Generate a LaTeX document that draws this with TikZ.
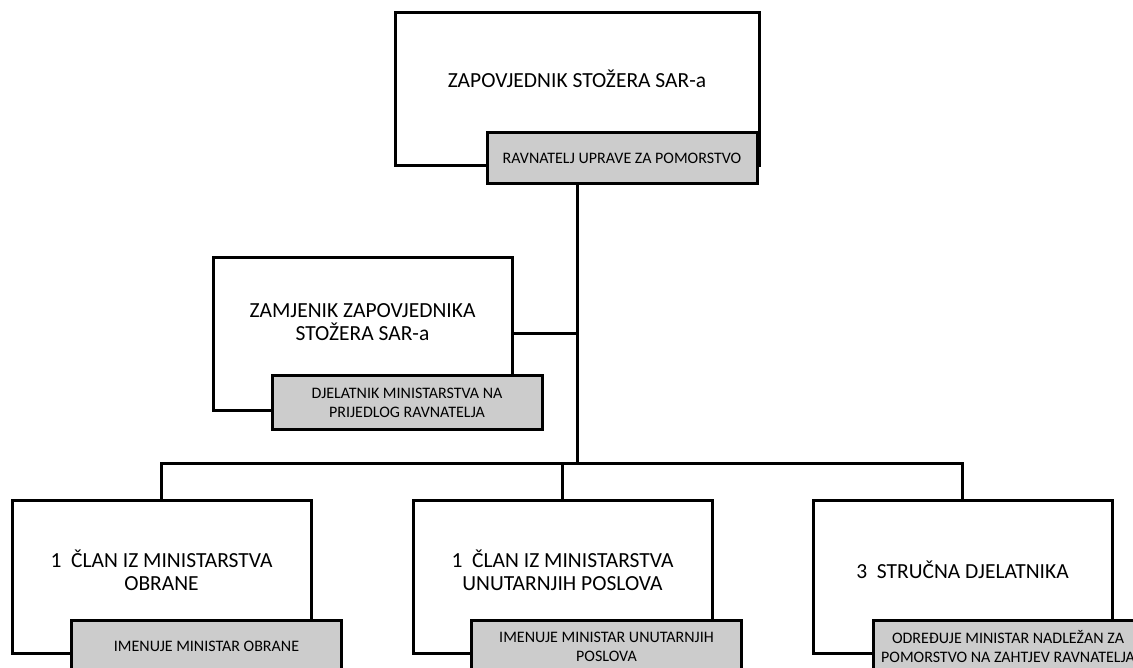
\documentclass[tikz,border=0pt]{standalone}
\usepackage{fontspec}
\setmainfont{Carlito}
\definecolor{boxgray}{RGB}{204,204,204}
\begin{document}
\begin{tikzpicture}[x=1pt, y=-1pt, line width=3pt, every node/.style = {shape=rectangle, align=center, inner sep=0pt}]
			\tikzstyle{post}=[draw, fill=white, minimum width=299pt, minimum height=153pt]
			\tikzstyle{note}=[draw, fill=boxgray, minimum width=270pt, minimum height=53pt, font=\fontsize{16}{19}\selectfont]
			\tikzstyle{title}=[font=\fontsize{21.5}{23}\selectfont]
			\useasboundingbox (0,0) rectangle (1133,668);
			\clip (0,0) rectangle (1133,668);
			% zapovjednik
			\node[post, minimum width=364pt] (zap) at (577,89.5) {};
			\node[title] (zapT) at ([yshift=10.5pt]zap.center) {ZAPOVJEDNIK STOŽERA SAR-a};
			\node[note, minimum height=51pt] (zapN) at (622,158.5) {RAVNATELJ UPRAVE ZA POMORSTVO};
			% zamjenik
			\node[post] (zam) at (362.5,334) {};
			\node[title] (zamT) at ([yshift=12pt]zam.center) {ZAMJENIK ZAPOVJEDNIKA\\STOŽERA SAR-a};
			\node[note] (zamN) at (407,402.5) {DJELATNIK MINISTARSTVA NA\\PRIJEDLOG RAVNATELJA};
			% clanovi
			\node[post] (obr) at (161.5,576.5) {};
			\node[title] (obrT) at ([yshift=6.5pt]obr.center) {1~~ČLAN IZ MINISTARSTVA\\OBRANE};
			\node[note] (obrN) at (206.5,646.5) {IMENUJE MINISTAR OBRANE};
			\node[post] (mup) at (562.5,576.5) {};
			\node[title] (mupT) at ([yshift=6.5pt]mup.center) {1~~ČLAN IZ MINISTARSTVA\\UNUTARNJIH POSLOVA};
			\node[note] (mupN) at (606.5,646.5) {IMENUJE MINISTAR UNUTARNJIH\\POSLOVA};
			\node[post] (str) at (962.5,576.5) {};
			\node[title] (strT) at ([yshift=6.5pt]str.center) {3~~STRUČNA DJELATNIKA};
			\node[note] (strN) at (1008,646.5) {ODREĐUJE MINISTAR NADLEŽAN ZA\\POMORSTVO NA ZAHTJEV RAVNATELJA};
			% veze
			\coordinate (bar) at (577,463);
			\draw (zapN.south -| zap.center) -- (bar);
			\draw (zam.east) -- (zam.east -| bar);
			\draw (obr.north) |- (bar) -| (str.north);
			\draw (mup.north) -- (mup.north |- bar);
		\end{tikzpicture}
\end{document}
